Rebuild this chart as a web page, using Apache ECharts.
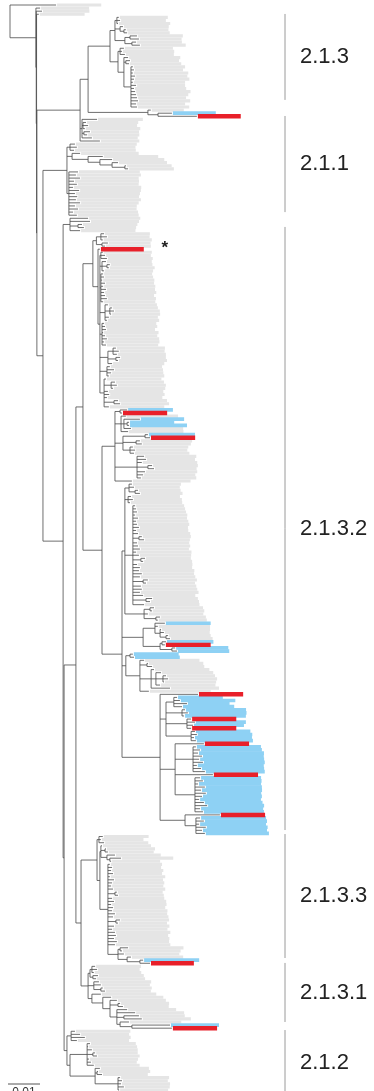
<!DOCTYPE html>
<html>
<head>
<meta charset="utf-8">
<script src="https://cdn.jsdelivr.net/npm/echarts@6/dist/echarts.min.js"></script>
<style>
html,body{margin:0;padding:0;background:#fff;}
#chart{width:374px;height:1091px;}
</style>
</head>
<body>
<div id="chart"></div>
<script>
// Phylogeny in a compact Newick-like notation.
// Internal node: (child,child,...)depth   Leaf: depth:labelLength[b|r][*]
// Depths and label lengths are in 1e-3 substitutions/site from the root.
// b = highlighted taxon (blue), r = highlighted taxon (red), * = flagged taxon.
const outgroup = "14.4:13.8";
const basalTaxa = ["9.4:15", "10:14.5", "9:14"];

const clade_2_1_3 =
  "(((" +
    "(34:15,34.4:14,33.75:16)33.4," +
    "(35.3:14,(36.2:13,36.6:13)35.6)34.4," +
    "((39.7:14,40.3:13)37.5,(39.4:14,40.6:14)38.1)35.9" +
  ")32.8,(" +
    "(35.6:15,35:16,35.9:15)34.4," +
    "(36.9:16,(37.5:15,37.2:16)36.2," +
    "(38.4:16,38.75:15,38.4:17,39.1:16,38.75:17,38.4:16,39.4:15,38.75:16,39.1:17,39.4:16,39.7:15,40:16,39.4:15,39.7:16)37.8" +
    ")35.6" +
  ")33.75)31.25," +
  "(44:10,(50.6:13.4b,58.4:13.4r)46.25)43.1)24.4";

const clade_2_1_1_top = "(27.2:14,(23.75:16,24.4:15,23.4:17)22.8,(25:15,24.1:16)23.1,25.6:14)22.5,28.1:12";

const clade_2_1_1 =
  "((20.3:19,20.9:18,20:19)18.75," +
  "(21.9:18,(29:17,(31.9:16,(33.75:15,(36.2:14,36.9:14)35.9)31.9)28.1)24.4)19.4," +
  "(21.25:19,20.6:20,21.9:18,20:20,20.9:19,19.7:21,21.6:19,20.3:20,21:19,20.6:20,21.9:18,20.3:19,21.25:18,19.7:20,20.9:19)18.4)17.8";

const intermediate = "(24.4:16,25:15,(22.5:17,23.1:16)21.25,21.9:17)18.75";

const sub_2_1_3_2_a = "((29.4:14,30.3:13,29:15)28.4,(30.6:13,29.7:14)28.75)27";
const sub_2_1_3_2_b = "28.1:13.4r*";
const sub_2_1_3_2_c =
  "((29:15,29.7:14,30.3:14)28.4," +
  "(30:14,(31.2:13,30.9:14)30.3,29.4:15)28.75," +
  "(29.1:15,29.4:15,28.8:16,29.7:15,29.1:16,30:15,29.4:16,29.7:15,30.3:15,29.1:16)28.4," +
  "(30.6:15,(31.9:14,32.5:14,31.6:15)31.2,30.9:15,30.3:16)29.7," +
  "(29.4:16,29.7:16,30:15,29.1:17,29.7:16,30.3:16,29.4:17,30:16)28.75," +
  "((33.1:15,34:14,33.4:15)32.2,(34.4:14,33.75:15)33.1,31.9:16)30.6," +
  "(31.2:16,32.5:15,31.6:16,30.9:17)30.3," +
  "(30:17,(32.8:15,33.4:15,32.2:16)31.6,30.6:17,31:17,30.3:17,(33.75:15,34.4:15)32.5,30.9:17)29.4)28.1";
const sub_2_1_3_2_d =
  "((36.6:14b,35:13.8r)34.4," +
  "(36.2:16,(40.6:13.5b,(37.2:13.8b,37.2:17.8b)36.6,37.8:16)35.6,36.9:17)34.7," +
  "((43.1:14.4b,43.75:13.8r)42.2,(40.6:16,41.2:15)39.4,(38.4:17,39.1:16,38.75:17)37.5)35.3," +
  "(41.9:16,42.5:15,41.2:17,(44.4:14,45:13)43.1,42.2:16,41.6:16,40.9:17)39.7," +
  "38.1:18)32.8";
const sub_2_1_3_2_e =
  "((38.1:15,38.75:14,(40:13,40.6:13)39.1)37.2," +
  "(37.8:15,38.4:15,37.5:16)36.9," +
  "(39.1:15,39.4:15,39.7:15,39.1:16,40:15,39.4:16,39.7:16,40.3:15,39.4:16,40:16," +
  "(41.2:15,41.9:14)40.3,39.7:16,40:16,40.6:15,39.4:17,40.3:16,(42.2:14,41.6:15)40.9,39.7:17,40.6:16," +
  "40.3:17,41.2:16,40.6:17,(43.1:15,42.5:15)41.6,40.9:17,41.2:17,40.6:18,41.6:16,(44.4:14,43.75:15)42.5,41.9:17)38.4," +
  "((45:15,44.4:16)43.75,43.1:17,(46.9:14,46.2:15)45.6)41.9)35.9";
const sub_2_1_3_2_f =
  "((48.4:14b,46.2:16,(47.2:15,48.1:14,(49.4:13,50:13)48.75)46.9)45.3," +
  "((48.75:14.5b,48.4:14r)47.5,(51.6:16.3b,52.2:16b)50.6)46.9)41.6";
const sub_2_1_3_2_g =
  "((38.4:14b,38.75:14b)37.5,(41.9:17,(43.1:17,44.4:16)42.8," +
  "(45:17,(47.2:16,(48.75:15,49.4:15,48.1:16)47.8,46.9:17)45.6,50:15)44.1,43.4:19)40.6)36.2";
const sub_2_1_3_2_h =
  "(58.75:13.8r," +
  "((52.2:14b,53.1:17b,55.3:13b,53.75:16b)51.2," +
  "(54.7:18.75b,55.6:18b,54.4:19b)53.75," +
  "(56.6:13.8r,57.8:15.6b,57.2:15.6b,56.6:13.8r)55.3," +
  "(57.8:17b,58.4:17b,57.5:17.8b,58.1:17.5b)56.6)48.75," +
  "(60.6:13.8r," +
  "(58.1:20b,59.4:19b,58.75:20.3b,60:19b,59.1:20b,60.3:19b,58.4:20.6b,59.7:19.4b,60.9:18.4b)57.2," +
  "63.4:13.8r," +
  "(59.4:18.75b,60.3:18b,58.75:19.4b,60.9:17.5b,59.7:18.75b,61.2:17b,60:18.4b,59.1:19b,60.6:18b,61.6:17.5b,59.4:19.4b,60.3:18.75b)57.8)51.6," +
  "(65.6:13.8r," +
  "(59.4:20.3b,60.6:19.4b,59.1:20.6b,61.2:19b,60:20b,60.9:19.7b)58.1)54.7)46.9";

const clade_2_1_3_3 =
  "((29:14,28.4:13,29.4:13.5)27.8," +
  "((28.75:15,(30:15,30.6:14)29.7,(32.8:14,(34.7:16,31.6:15)31.2)30.3)28.4," +
  "(31.2:16,31.9:15,31.6:16,32.2:15,31.2:17,32.5:15,31.9:16,31.6:16,32.2:16,(33.4:14,33.75:14)32.8," +
  "31.9:16,32.5:16,31.6:17,32.2:16,31.9:17,32.8:16,32.2:17,(34.4:15,33.75:15)33.1," +
  "32.5:17,31.9:17,32.8:17,33.1:16,32.5:17,33.4:16,32.8:17," +
  "((36.9:17,35:18)34.4,35.6:17,(37.8:16,(41.6:17.2b,43.75:13.4r)40.6)36.6)33.75)30.6)28.1)27.2";

const clade_2_1_3_1 =
  "(((26.6:14,27.2:13,26.2:14.5)25.6,(27.5:14,26.9:15)25.9)25," +
  "(27.8:16,28.4:15,(29:15,29.7:14)28.4)26.2," +
  "(28.4:17,(31.6:16,(33.4:15,(34.4:15,35.3:14)33.75," +
  "(36.6:15,39.1:15,(40.3:14,41.2:15)35.6,(37.2:16,(50:15b,50.6:13.8r)38.1)34.4)33.4)31.25)29)25.6)24.4";

const clade_2_1_2 =
  "((20.3:17,21.9:15,23.4:14,20.9:16)19.1," +
  "((25:14,24.4:15,25.6:14,(26.6:13,27.2:13)25.9,24.7:15,25.3:14,26.2:14)24.1," +
  "(28.1:15,(27.5:16,28.75:14)27.2,(34.4:15,35:14,34.7:15,35.6:14,34.1:15)33.75)26.6)18.75)17.8";

// Clade annotation: name and first / last taxon (row index, top to bottom)
const cladeNames = ["2.1.3", "2.1.1", "2.1.3.2", "2.1.3.3", "2.1.3.1", "2.1.2"];
const cladeFirstRow = [2.9, 35.9, 71.8, 268.2, 309.9, 331.6];
const cladeLastRow = [30.7, 67, 266.9, 308.3, 329, 353];

const scaleBarLength = 0.01;
const scaleBarLabel = "0.01";

// Assemble the backbone from the subclades.
const subclade_2_1_3_2 =
  "((" + sub_2_1_3_2_a + ",(" + sub_2_1_3_2_b + "," + sub_2_1_3_2_c + ")27.5)25.9," +
  "(" + sub_2_1_3_2_d + ",(" + sub_2_1_3_2_e + "," + sub_2_1_3_2_f + "," + sub_2_1_3_2_g + "," + sub_2_1_3_2_h + ")35)28.75)22.8";
const lineage_2_1_3 = "(" + subclade_2_1_3_2 + ",(" + clade_2_1_3_3 + "," + clade_2_1_3_1 + ")22.2)20.6";
const core =
  "((" + clade_2_1_3 + "," + clade_2_1_1_top + ")21.9," +
  "(" + clade_2_1_1 + ",(" + intermediate + ",(" + lineage_2_1_3 + "," + clade_2_1_2 + ")16.9)16.6)10.3)8.4";
const treeText =
  "(" + outgroup + ",(" + basalTaxa[0] + ",(" + basalTaxa[1] + ",(" + basalTaxa[2] + "," + core + ")8.3)8.2)8.1)0";

function parseTree(src) {
  const s = src.replace(/\s+/g, "");
  let i = 0;
  function num() {
    const m = /^\d+(\.\d+)?/.exec(s.slice(i));
    if (!m) throw new Error("tree syntax near " + i + ": " + s.slice(Math.max(0, i - 20), i + 20));
    i += m[0].length;
    return parseFloat(m[0]) * 1e-3;
  }
  function node() {
    if (s[i] === "(") {
      i++;
      const children = [node()];
      while (s[i] === ",") { i++; children.push(node()); }
      i++;
      return { depth: num(), children: children };
    }
    const depth = num();
    i++;
    const label = num();
    let tag = "g", flag = false;
    if (s[i] === "b" || s[i] === "r") tag = s[i++];
    if (s[i] === "*") { flag = true; i++; }
    return { depth: depth, label: label, tag: tag, flag: flag };
  }
  return node();
}

const tree = parseTree(treeText);
const leaves = [];
const branches = [];
let nextRow = 0;
(function layout(n, parentDepth) {
  if (n.children) {
    n.children.forEach(function (c) { layout(c, n.depth); });
    const a = n.children[0].y, b = n.children[n.children.length - 1].y;
    n.y = (a + b) / 2;
    branches.push([n.depth, a, n.depth, b]);
  } else {
    n.y = nextRow++;
    leaves.push(n);
  }
  if (parentDepth !== null) branches.push([parentDepth, n.y, n.depth, n.y]);
})(tree, null);

const rowCount = nextRow;
const greyData = leaves.filter(l => l.tag === "g").map(l => [l.depth, l.y, l.label, 0]);
const blueData = leaves.filter(l => l.tag === "b").map(l => [l.depth, l.y, l.label, 0]);
const redData = leaves.filter(l => l.tag === "r").map(l => [l.depth, l.y, l.label, l.flag ? 1 : 0]);
const cladeData = cladeNames.map((n, k) => [cladeFirstRow[k], cladeLastRow[k], k]);

function barRenderer(fill, heightRows, offset) {
  return function (params, api) {
    const p = api.coord([api.value(0), api.value(1)]);
    const q = api.coord([api.value(0) + api.value(2), api.value(1)]);
    const h = api.size([0, 1])[1] * heightRows;
    const rect = {
      type: "rect",
      shape: { x: p[0] + offset, y: p[1] - h / 2, width: q[0] - p[0], height: h },
      style: { fill: fill }
    };
    if (api.value(3) === 1) {
      return {
        type: "group",
        children: [rect, {
          type: "text",
          style: { text: "*", x: q[0] + 22, y: p[1] - 1, fill: "#222",
            font: "bold 17px 'Liberation Sans', Arial, sans-serif", align: "center", verticalAlign: "middle" }
        }]
      };
    }
    return rect;
  };
}

const chart = echarts.init(document.getElementById("chart"), null, { renderer: "canvas" });
chart.setOption({
  animation: false,
  backgroundColor: "#ffffff",
  grid: { left: 10, right: 44, top: 5, bottom: 1 },
  xAxis: { type: "value", min: 0, max: 0.1, show: false },
  yAxis: { type: "value", min: 0, max: rowCount - 1, inverse: true, show: false },
  series: [
    {
      type: "custom", silent: true, clip: false, data: greyData,
      renderItem: barRenderer("#e5e5e5", 1.02, 1)
    },
    {
      type: "custom", silent: true, clip: false, data: branches,
      renderItem: function (params, api) {
        const p = api.coord([api.value(0), api.value(1)]);
        const q = api.coord([api.value(2), api.value(3)]);
        return {
          type: "line",
          shape: { x1: p[0], y1: p[1], x2: q[0], y2: q[1] },
          style: { stroke: "#4a4a4a", lineWidth: 0.8 }
        };
      }
    },
    {
      type: "custom", silent: true, clip: false, data: blueData,
      renderItem: barRenderer("#8ed1f4", 1.2, 1)
    },
    {
      type: "custom", silent: true, clip: false, data: redData,
      renderItem: barRenderer("#e8202a", 1.45, 1)
    },
    {
      type: "custom", silent: true, clip: false, data: cladeData,
      renderItem: function (params, api) {
        const top = api.coord([0, api.value(0)])[1];
        const bottom = api.coord([0, api.value(1)])[1];
        const x = params.coordSys.x + params.coordSys.width - 45;
        return {
          type: "group",
          children: [
            { type: "line", shape: { x1: x, y1: top, x2: x, y2: bottom },
              style: { stroke: "#9a9a9a", lineWidth: 1 } },
            { type: "text",
              style: { text: cladeNames[api.value(2)], x: x + 15, y: (top + bottom) / 2,
                fill: "#222", font: "22px 'Liberation Sans', Arial, sans-serif",
                align: "left", verticalAlign: "middle" } }
          ]
        };
      }
    },
    {
      type: "custom", silent: true, clip: false, data: [[0, scaleBarLength]],
      renderItem: function (params, api) {
        const x0 = api.coord([api.value(0), 0])[0];
        const x1 = api.coord([api.value(1), 0])[0];
        const y = params.coordSys.y + params.coordSys.height - 6;
        return {
          type: "group",
          children: [
            { type: "line", shape: { x1: x0 - 2, y1: y, x2: x1 - 2, y2: y },
              style: { stroke: "#555", lineWidth: 1 } },
            { type: "text",
              style: { text: scaleBarLabel, x: (x0 + x1) / 2 - 2, y: y + 3, fill: "#333",
                font: "12px 'Liberation Sans', Arial, sans-serif", align: "center", verticalAlign: "top" } }
          ]
        };
      }
    }
  ]
});
</script>
</body>
</html>
